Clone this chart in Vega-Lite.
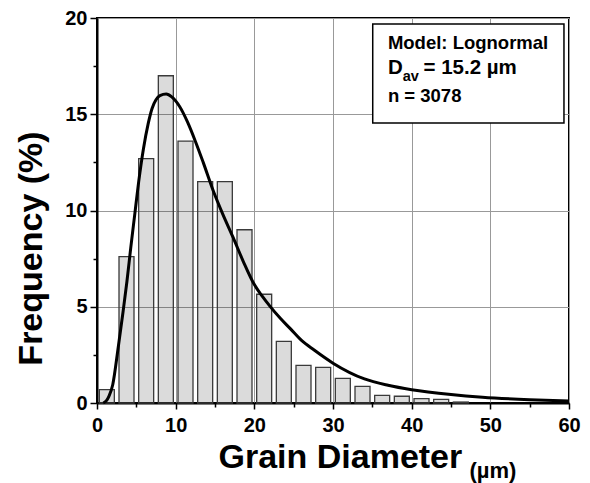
{
  "$schema": "https://vega.github.io/schema/vega-lite/v6.json",
  "width": 472,
  "height": 385,
  "autosize": "none",
  "padding": {"left": 97, "top": 18, "right": 21, "bottom": 80},
  "background": "white",
  "config": {
    "view": {"stroke": "black", "strokeWidth": 2},
    "font": "Liberation Sans",
    "scale": {"continuousPadding": 0},
    "axis": {
      "domainColor": "black", "domainWidth": 2,
      "tickColor": "black", "tickWidth": 1.5,
      "labelFont": "Liberation Sans", "labelFontWeight": "bold", "labelFontSize": 20, "labelColor": "black",
      "titleFont": "Liberation Sans", "titleFontWeight": "bold", "titleColor": "black",
      "gridColor": "#999999", "gridWidth": 1, "gridOpacity": 1
    }
  },
  "resolve": {"axis": {"x": "independent", "y": "independent"}},
  "layer": [
    {
      "data": {"values": [
        {"d": 1.25, "f": 0.7}, {"d": 3.75, "f": 7.6}, {"d": 6.25, "f": 12.7}, {"d": 8.75, "f": 17.0},
        {"d": 11.25, "f": 13.6}, {"d": 13.75, "f": 11.5}, {"d": 16.25, "f": 11.5}, {"d": 18.75, "f": 9.0},
        {"d": 21.25, "f": 5.65}, {"d": 23.75, "f": 3.2}, {"d": 26.25, "f": 1.95}, {"d": 28.75, "f": 1.85},
        {"d": 31.25, "f": 1.28}, {"d": 33.75, "f": 0.86}, {"d": 36.25, "f": 0.4}, {"d": 38.75, "f": 0.35},
        {"d": 41.25, "f": 0.23}, {"d": 43.75, "f": 0.19}, {"d": 46.25, "f": 0.05}
      ]},
      "mark": {"type": "bar", "width": 15, "fill": "black", "fillOpacity": 0.14, "stroke": "#3a3a3a", "strokeWidth": 1.3},
      "encoding": {
        "x": {"field": "d", "type": "quantitative",
          "scale": {"domain": [0, 60], "nice": false, "zero": false, "padding": 0},
          "axis": {"orient": "bottom", "values": [0, 10, 20, 30, 40, 50, 60], "tickSize": 6, "labelPadding": 6,
            "grid": true, "labelFlush": false, "title": "Grain Diameter", "titleFontSize": 34,
            "titleX": 121, "titleY": 64.5, "titleAlign": "left", "titleBaseline": "alphabetic", "titleAnchor": "start"}},
        "y": {"field": "f", "type": "quantitative",
          "scale": {"domain": [0, 20], "nice": false, "padding": 0},
          "axis": {"orient": "left", "values": [0, 5, 10, 15, 20], "tickSize": 7, "labelPadding": 3,
            "grid": true, "labelFlush": false, "title": "Frequency (%)", "titleFontSize": 34,
            "titleX": -56, "titleY": 230, "titleAngle": -90, "titleAlign": "center", "titleBaseline": "alphabetic"}}
      }
    },
    {
      "data": {"values": [
        {"d": 0.8, "f": 0}, {"d": 1.2, "f": 0.12}, {"d": 1.5, "f": 0.33}, {"d": 2, "f": 0.95},
        {"d": 2.7, "f": 2.9}, {"d": 3.3, "f": 4.7}, {"d": 3.8, "f": 6.3}, {"d": 4.3, "f": 8.1},
        {"d": 4.8, "f": 9.8}, {"d": 5.3, "f": 11.5}, {"d": 5.9, "f": 13.2}, {"d": 6.5, "f": 14.5},
        {"d": 7, "f": 15.3}, {"d": 7.5, "f": 15.75}, {"d": 8, "f": 15.97}, {"d": 8.8, "f": 16.05},
        {"d": 9.5, "f": 15.9}, {"d": 10.5, "f": 15.4}, {"d": 11.5, "f": 14.6}, {"d": 12.5, "f": 13.6},
        {"d": 13.5, "f": 12.5}, {"d": 14.8, "f": 11.0}, {"d": 16, "f": 9.8}, {"d": 17.3, "f": 8.6},
        {"d": 18.6, "f": 7.35}, {"d": 20, "f": 6.15}, {"d": 21, "f": 5.55}, {"d": 22, "f": 5.02},
        {"d": 23.3, "f": 4.4}, {"d": 24.6, "f": 3.85}, {"d": 26, "f": 3.25}, {"d": 27.6, "f": 2.75},
        {"d": 30, "f": 2.07}, {"d": 34, "f": 1.25}, {"d": 37, "f": 0.92}, {"d": 40, "f": 0.69},
        {"d": 45, "f": 0.44}, {"d": 49, "f": 0.3}, {"d": 55, "f": 0.17}, {"d": 60, "f": 0.1}
      ]},
      "mark": {"type": "line", "color": "black", "strokeWidth": 3, "interpolate": "monotone"},
      "encoding": {
        "x": {"field": "d", "type": "quantitative", "scale": {"domain": [0, 60], "nice": false, "zero": false, "padding": 0}, "axis": null},
        "y": {"field": "f", "type": "quantitative", "scale": {"domain": [0, 20], "nice": false, "padding": 0}, "axis": null}
      }
    },
    {
      "data": {"values": [{"x1": 35.05, "x2": 59.36, "y1": 19.69, "y2": 14.55}]},
      "mark": {"type": "rect", "fill": "white", "stroke": "black", "strokeWidth": 1.5},
      "encoding": {
        "x": {"field": "x1", "type": "quantitative", "scale": {"domain": [0, 60], "nice": false, "zero": false, "padding": 0},
          "axis": {"orient": "bottom", "values": [5, 15, 25, 35, 45, 55], "labels": false, "domain": false, "grid": false,
            "tickSize": 4, "title": "(µm)", "titleFontSize": 22, "titleX": 372, "titleY": 74,
            "titleAlign": "left", "titleBaseline": "alphabetic", "titleAnchor": "start"}},
        "x2": {"field": "x2"},
        "y": {"field": "y1", "type": "quantitative", "scale": {"domain": [0, 20], "nice": false, "padding": 0},
          "axis": {"orient": "left", "values": [2.5, 7.5, 12.5, 17.5], "labels": false, "domain": false, "grid": false,
            "tickSize": 4, "title": null}},
        "y2": {"field": "y2"}
      }
    },
    {
      "data": {"values": [
        {"x": 36.98, "y": 18.39, "t": "Model: Lognormal"},
        {"x": 36.98, "y": 15.65, "t": "n = 3078"}
      ]},
      "mark": {"type": "text", "align": "left", "baseline": "alphabetic", "font": "Liberation Sans", "fontWeight": "bold", "fontSize": 18.5, "color": "black"},
      "encoding": {
        "x": {"field": "x", "type": "quantitative", "scale": {"domain": [0, 60], "nice": false, "zero": false, "padding": 0}, "axis": null},
        "y": {"field": "y", "type": "quantitative", "scale": {"domain": [0, 20], "nice": false, "padding": 0}, "axis": null},
        "text": {"field": "t"}
      }
    },
    {
      "data": {"values": [
        {"x": 36.98, "y": 17.07, "t": "D"},
        {"x": 41.5, "y": 17.07, "t": "= 15.2 µm"}
      ]},
      "mark": {"type": "text", "align": "left", "baseline": "alphabetic", "font": "Liberation Sans", "fontWeight": "bold", "fontSize": 20.5, "color": "black"},
      "encoding": {
        "x": {"field": "x", "type": "quantitative", "scale": {"domain": [0, 60], "nice": false, "zero": false, "padding": 0}, "axis": null},
        "y": {"field": "y", "type": "quantitative", "scale": {"domain": [0, 20], "nice": false, "padding": 0}, "axis": null},
        "text": {"field": "t"}
      }
    },
    {
      "data": {"values": [{"x": 38.86, "y": 16.74, "t": "av"}]},
      "mark": {"type": "text", "align": "left", "baseline": "alphabetic", "font": "Liberation Sans", "fontWeight": "bold", "fontSize": 14.5, "color": "black"},
      "encoding": {
        "x": {"field": "x", "type": "quantitative", "scale": {"domain": [0, 60], "nice": false, "zero": false, "padding": 0}, "axis": null},
        "y": {"field": "y", "type": "quantitative", "scale": {"domain": [0, 20], "nice": false, "padding": 0}, "axis": null},
        "text": {"field": "t"}
      }
    }
  ]
}
